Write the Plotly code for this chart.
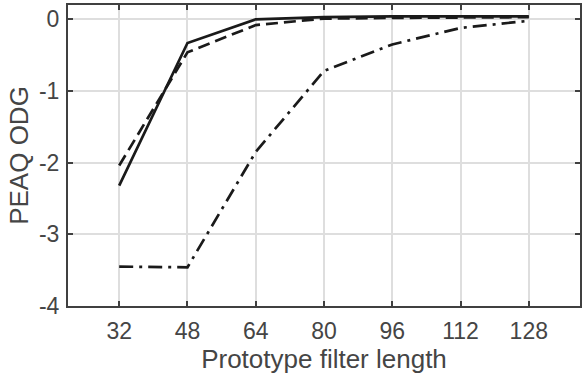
import plotly.graph_objects as go

x_lengths = [32, 48, 64, 80, 96, 112, 128]
odg_solid = [-2.32, -0.33, 0.0, 0.03, 0.04, 0.04, 0.04]
odg_dashed = [-2.04, -0.46, -0.08, 0.01, 0.02, 0.03, 0.03]
odg_dashdot = [-3.45, -3.46, -1.85, -0.72, -0.35, -0.12, -0.02]

fig = go.Figure()
fig.add_trace(go.Scatter(x=x_lengths, y=odg_dashdot, mode="lines",
                         line=dict(color="#1a1a1a", width=2.7, dash="14px,6px,3px,6px")))
fig.add_trace(go.Scatter(x=x_lengths, y=odg_dashed, mode="lines",
                         line=dict(color="#1a1a1a", width=2.7, dash="12px,6px")))
fig.add_trace(go.Scatter(x=x_lengths, y=odg_solid, mode="lines",
                         line=dict(color="#1a1a1a", width=2.7)))

axis_common = dict(showline=True, linecolor="#404040", linewidth=2, mirror="ticks",
                   ticks="inside", ticklen=5, tickwidth=2, tickcolor="#404040",
                   showgrid=True, gridcolor="#dedede", gridwidth=2, zeroline=False,
                   tickfont=dict(family="Liberation Sans, Arial", size=23, color="#454545"),
                   title_font=dict(family="Liberation Sans, Arial", size=26, color="#454545"))

fig.update_layout(
    width=583, height=381, showlegend=False,
    paper_bgcolor="white", plot_bgcolor="white",
    margin=dict(l=68, r=1, t=5, b=75),
    xaxis=dict(range=[20, 140], tickvals=x_lengths, ticktext=[str(v) for v in x_lengths],
               ticklabelstandoff=3,
               title=dict(text="Prototype filter length", standoff=5), **axis_common),
    yaxis=dict(range=[-4, 0.2], tickvals=[0, -1, -2, -3, -4], ticktext=["0", "-1", "-2", "-3", "-4"],
               ticklabelstandoff=2,
               title=dict(text="PEAQ ODG", standoff=3), **axis_common),
)

fig.write_html("out.html")
